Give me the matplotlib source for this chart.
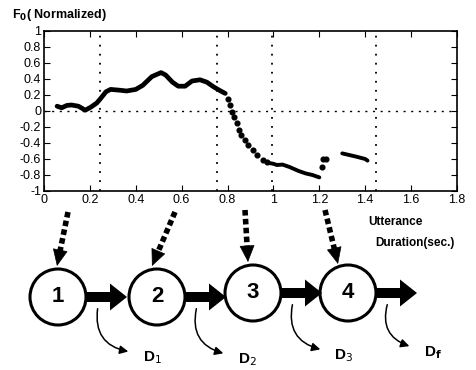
import matplotlib
matplotlib.use("Agg")
import matplotlib.pyplot as plt
from matplotlib.patches import Circle, FancyArrowPatch, FancyArrow

plt.rcParams['font.family'] = ['Liberation Sans', 'DejaVu Sans']

# F0 contour (sec., normalized F0)
rise_x = [0.057, 0.077, 0.10, 0.12, 0.15, 0.18, 0.205, 0.23, 0.245, 0.27, 0.29, 0.33, 0.36,
          0.40, 0.43, 0.47, 0.51, 0.53, 0.56, 0.585, 0.615, 0.645, 0.68, 0.71, 0.74, 0.77, 0.79]
rise_y = [0.06, 0.04, 0.07, 0.075, 0.06, 0.01, 0.05, 0.10, 0.15, 0.24, 0.27, 0.26, 0.25,
          0.27, 0.32, 0.43, 0.48, 0.45, 0.36, 0.31, 0.31, 0.375, 0.39, 0.36, 0.30, 0.25, 0.22]
fall_x = [0.80, 0.81, 0.82, 0.83, 0.84, 0.85, 0.86, 0.875, 0.89, 0.91, 0.93, 0.955, 0.97]
fall_y = [0.15, 0.08, -0.01, -0.07, -0.15, -0.24, -0.30, -0.36, -0.43, -0.49, -0.55, -0.61, -0.64]
low_x = [0.98, 1.00, 1.015, 1.04, 1.07, 1.11, 1.14, 1.17, 1.20]
low_y = [-0.65, -0.66, -0.675, -0.67, -0.70, -0.75, -0.78, -0.80, -0.83]
jump_x = [1.21, 1.218, 1.228]
jump_y = [-0.70, -0.60, -0.60]
tail_x = [1.30, 1.33, 1.36, 1.40, 1.41]
tail_y = [-0.53, -0.55, -0.57, -0.60, -0.62]

boundaries = [0.245, 0.756, 0.995, 1.445]
xticks = [0, 0.2, 0.4, 0.6, 0.8, 1, 1.2, 1.4, 1.6, 1.8]
xtick_labels = ['0', '0.2', '0.4', '0.6', '0.8', '1', '1.2', '1.4', '1.6', '1.8']
yticks = [1, 0.8, 0.6, 0.4, 0.2, 0, -0.2, -0.4, -0.6, -0.8, -1]
ytick_labels = ['1', '0.8', '0.6', '0.4', '0.2', '0', '-0.2', '-0.4', '-0.6', '-0.8', '-1']

states = ['1', '2', '3', '4']
durations = ['D$_1$', 'D$_2$', 'D$_3$', 'D$_\\mathbf{f}$']

W, H = 476, 370
fig = plt.figure(figsize=(W / 100, H / 100), dpi=100)

ax = fig.add_axes([44 / W, 1 - 191 / H, 413 / W, 160 / H])
ax.plot(rise_x, rise_y, color='black', lw=3.4, solid_capstyle='round')
ax.plot(fall_x, fall_y, 'o', color='black', ms=3.4)
ax.plot(low_x, low_y, color='black', lw=2.8, solid_capstyle='round')
ax.plot(jump_x, jump_y, 'o', color='black', ms=3.4)
ax.plot(tail_x, tail_y, color='black', lw=2.8, solid_capstyle='round')
for b in boundaries:
    ax.axvline(b, color='black', ls=(0, (1, 4)), lw=1.3)
ax.axhline(0, color='black', ls=(0, (1.5, 4)), lw=1.0)

ax.set_xlim(0, 1.8)
ax.set_ylim(-1, 1)
ax.set_xticks(xticks)
ax.set_xticklabels(xtick_labels)
ax.set_yticks(yticks)
ax.set_yticklabels(ytick_labels)
ax.tick_params(direction='in', top=True, right=True, labelsize=9, length=4, pad=2)
for s in ax.spines.values():
    s.set_linewidth(1.2)

fig.text(12 / W, 1 - 15 / H, 'F$_\\mathbf{0}$( Normalized)', fontsize=9, fontweight='bold',
         va='center', ha='left')
fig.text(395 / W, 1 - 222 / H, 'Utterance', fontsize=8.5, fontweight='bold', ha='center', va='center')
fig.text(415 / W, 1 - 243 / H, 'Duration(sec.)', fontsize=8.5, fontweight='bold', ha='center', va='center')

# state diagram in pixel coordinates
ov = fig.add_axes([0, 0, 1, 1])
ov.set_xlim(0, W)
ov.set_ylim(H, 0)
ov.axis('off')

cx = [58, 157, 253, 348]
cy = [297, 297, 293, 293]
r = 28
dash_start = [(68, 212), (175, 212), (245, 210), (325, 210)]
dash_end = [(57, 266), (152, 266), (248, 262), (338, 264)]
label_pos = [(152, 358), (247, 360), (344, 356), (433, 353)]

for i in range(4):
    ov.add_patch(Circle((cx[i], cy[i]), r, fill=False, lw=2.2, color='black'))
    ov.text(cx[i], cy[i], states[i], fontsize=16, fontweight='bold', ha='center', va='center')
    x0 = cx[i] + r + 1
    ov.add_patch(FancyArrow(x0, cy[i], 40, 0, width=10, head_width=27, head_length=17,
                            length_includes_head=True, color='black', lw=0))
    sx, sy = x0 + 11, cy[i] + 9
    lx, ly = label_pos[i]
    ov.add_patch(FancyArrowPatch((sx, sy), (lx - 21, ly - 6), connectionstyle='arc3,rad=0.5',
                                 arrowstyle='-|>,head_length=5,head_width=2.5', lw=1.1, color='black'))
    ov.text(lx, ly, durations[i], fontsize=11, fontweight='bold', ha='center', va='center')
    # dashed pointer from the time axis to the state
    (x1, y1), (x2, y2) = dash_start[i], dash_end[i]
    f = 0.78
    xm, ym = x1 + (x2 - x1) * f, y1 + (y2 - y1) * f
    ov.plot([x1, xm], [y1, ym], color='black', lw=4, ls=(0, (1.0, 0.6)), solid_capstyle='butt')
    ov.add_patch(FancyArrowPatch((xm, ym), (x2, y2), arrowstyle='-|>,head_length=11,head_width=5',
                                 lw=0.5, color='black', shrinkA=0, shrinkB=0, mutation_scale=1))

fig.savefig('out.png', dpi=100)
